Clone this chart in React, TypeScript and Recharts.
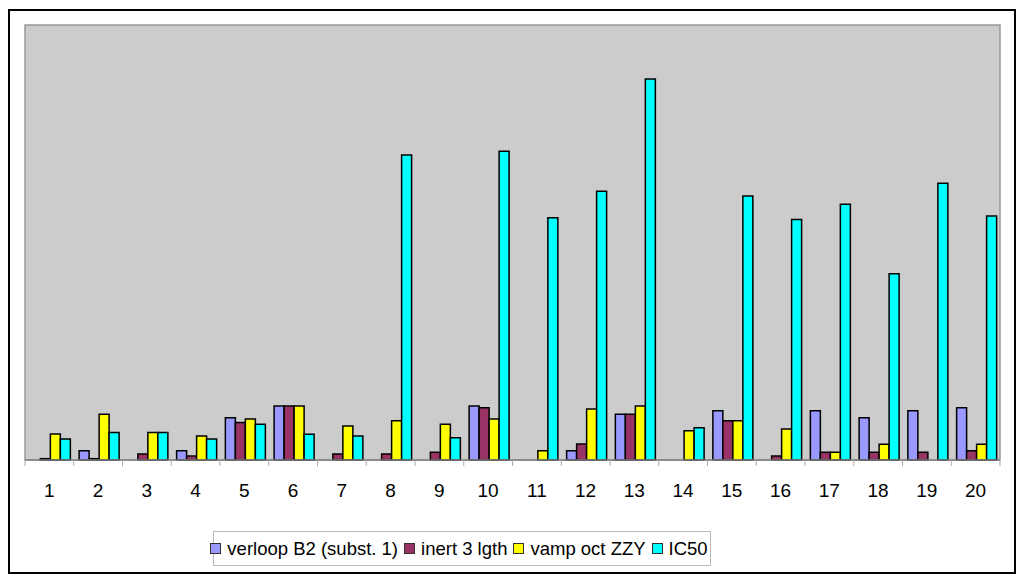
import {
  BarChart, Bar, XAxis, YAxis, CartesianGrid, Legend, ReferenceArea,
} from "recharts";

const categories = ["1", "2", "3", "4", "5", "6", "7", "8", "9", "10", "11", "12", "13", "14", "15", "16", "17", "18", "19", "20"];
const verloop = [0, 2.1, 0, 2.1, 9.7, 12.4, 0, 0, 0, 12.4, 0, 2.1, 10.5, 0, 11.3, 0, 11.3, 9.7, 11.3, 12.0];
const inert = [0.3, 0.3, 1.4, 0.9, 8.6, 12.4, 1.4, 1.4, 1.8, 12.0, 0, 3.7, 10.5, 0, 9.0, 0.9, 1.8, 1.8, 1.8, 2.1];
const vamp = [6.0, 10.5, 6.3, 5.5, 9.4, 12.4, 7.8, 9.0, 8.2, 9.4, 2.1, 11.7, 12.4, 6.7, 9.0, 7.1, 1.8, 3.6, 0, 3.6];
const ic50 = [4.8, 6.3, 6.3, 4.8, 8.2, 5.9, 5.5, 70.1, 5.1, 71.0, 55.7, 61.8, 87.6, 7.4, 60.7, 55.3, 58.8, 42.8, 63.6, 56.1];

const series = [
  { key: "verloop", label: "verloop B2 (subst. 1)", color: "#9999FF" },
  { key: "inert", label: "inert 3 lgth", color: "#993366" },
  { key: "vamp", label: "vamp oct ZZY", color: "#FFFF00" },
  { key: "ic50", label: "IC50", color: "#00FFFF" },
];

const data = categories.map((c, i) => ({
  name: c,
  verloop: verloop[i],
  inert: inert[i],
  vamp: vamp[i],
  ic50: ic50[i],
}));

const W = 1004;
const H = 561;
const margin = { top: 14, right: 14, left: 15, bottom: 45 };
const band = (W - margin.left - margin.right) / categories.length;
const font = "'Liberation Sans', Arial, sans-serif";

function CategoryTick(props: any) {
  const { x, y, payload, index } = props;
  return (
    <g>
      <line x1={x - band / 2} x2={x - band / 2} y1={y} y2={y + 6} stroke="#aaa" />
      {index === categories.length - 1 && (
        <line x1={x + band / 2} x2={x + band / 2} y1={y} y2={y + 6} stroke="#aaa" />
      )}
      <text x={x} y={y + 37} textAnchor="middle" fontSize={19} fontFamily={font} fill="#000">
        {payload.value}
      </text>
    </g>
  );
}

function LegendBox() {
  return (
    <div
      style={{
        border: "1px solid #bbb",
        height: 35,
        boxSizing: "border-box",
        display: "flex",
        alignItems: "center",
        justifyContent: "center",
        fontFamily: font,
        fontSize: 18.5,
        whiteSpace: "nowrap",
      }}
    >
      {series.map((s) => (
        <span key={s.key} style={{ display: "inline-flex", alignItems: "center", marginRight: 6 }}>
          <span
            style={{
              display: "inline-block",
              width: 9,
              height: 9,
              background: s.color,
              border: "1px solid #333",
              marginRight: 6,
            }}
          />
          {s.label}
        </span>
      ))}
    </div>
  );
}

export default function App() {
  return (
    <div
      style={{
        width: W,
        height: H,
        border: "2px solid #000",
        position: "relative",
        marginTop: 1,
        background: "#fff",
      }}
    >
      <BarChart width={W} height={H} data={data} margin={margin} barCategoryGap="11%" barGap={0}>
        <CartesianGrid horizontal={false} vertical={false} fill="#CCCCCC" />
        <ReferenceArea y1={0} y2={100} fill="none" stroke="#999" strokeWidth={1.5} />
        <XAxis
          dataKey="name"
          height={30}
          interval={0}
          tickSize={0}
          tickMargin={0}
          axisLine={{ stroke: "#808080", strokeWidth: 1.5 }}
          tick={(p: any) => <CategoryTick {...p} />}
        />
        <YAxis hide domain={[0, 100]} />
        <Legend
          content={() => <LegendBox />}
          wrapperStyle={{ position: "absolute", left: 203, top: 520, bottom: "auto", width: 498, height: 37 }}
        />
        {series.map((s) => (
          <Bar
            key={s.key}
            dataKey={s.key}
            name={s.label}
            fill={s.color}
            stroke="#000"
            strokeWidth={1.5}
            isAnimationActive={false}
          />
        ))}
      </BarChart>
    </div>
  );
}
